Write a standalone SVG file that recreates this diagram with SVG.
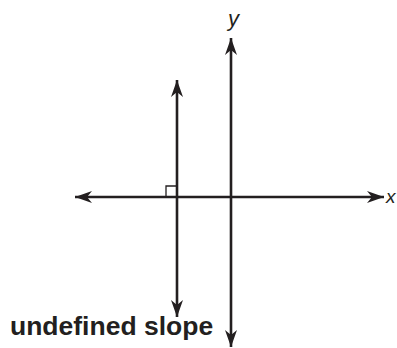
<svg xmlns="http://www.w3.org/2000/svg" width="397" height="348" viewBox="0 0 397 348">
<style>
.ln{stroke:#231f20;stroke-width:2.6;fill:none}
.lbl{font-family:"Liberation Sans",Arial,sans-serif;fill:#231f20}
.ax{font-style:italic;font-size:22px}
.b{font-weight:bold;font-size:26.5px}
</style>
<defs>
<marker id="ah" markerUnits="userSpaceOnUse" viewBox="0 0 17 12" refX="17" refY="6" markerWidth="17" markerHeight="12" orient="auto-start-reverse">
<path d="M0,0 L17,6 L0,12 L5,6 Z" fill="#231f20"/>
</marker>
</defs>
<rect width="397" height="348" fill="#fff"/>
<g id="connectors">
<line id="x-axis" class="ln" x1="75" y1="197" x2="384" y2="197" marker-start="url(#ah)" marker-end="url(#ah)"/>
<line id="y-axis" class="ln" x1="231" y1="38" x2="231" y2="347" marker-start="url(#ah)" marker-end="url(#ah)"/>
<line id="vertical-line" class="ln" x1="177" y1="80" x2="177" y2="317" marker-start="url(#ah)" marker-end="url(#ah)"/>
</g>
<g id="right-angle">
<path d="M166,197 V186 H177" fill="none" stroke="#231f20" stroke-width="1.3"/>
</g>
<g id="label-y"><text class="lbl ax" x="228" y="26">y</text></g>
<g id="label-x"><text class="lbl" x="386" y="203" font-style="italic" font-size="19">x</text></g>
<g id="label-slope"><text class="lbl b" x="10" y="335">undefined slope</text></g>
</svg>
